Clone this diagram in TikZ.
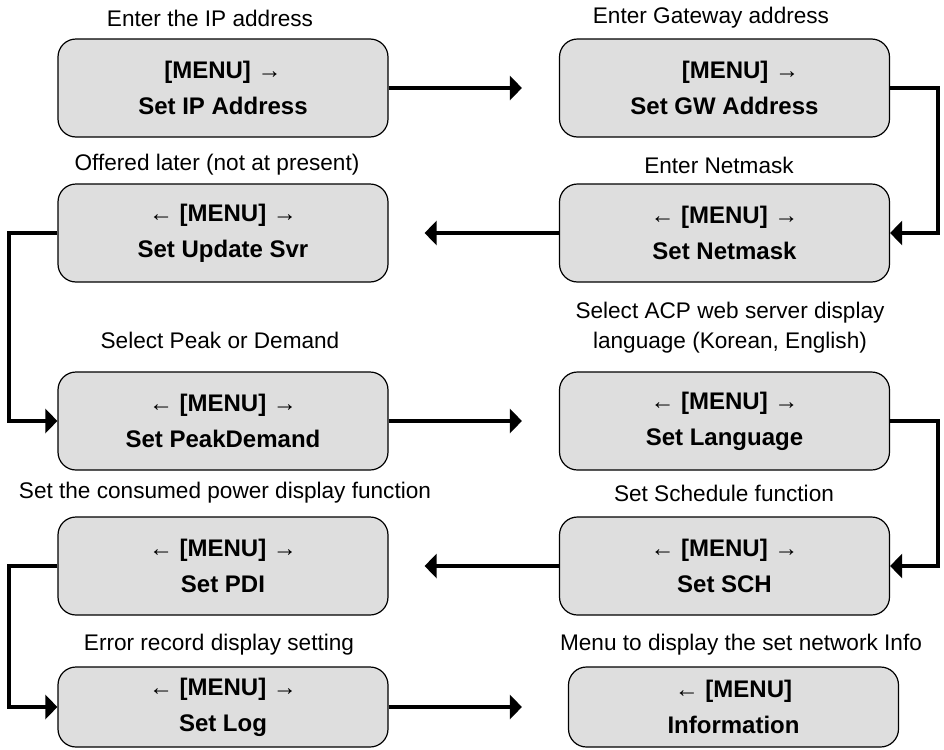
\documentclass[tikz,border=0pt]{standalone}
\usepackage{fontspec}
\setmainfont{Liberation Sans}
\usetikzlibrary{arrows.meta}

\begin{document}
\begin{tikzpicture}[x=0.5pt,y=-0.5pt,>={Triangle[length=6pt,width=12pt]},line cap=butt,
  menubox/.style={draw=black,line width=0.6pt,fill=black!13,rounded corners=9pt,
    minimum width=165pt,minimum height=49pt,align=center,
    font=\fontsize{12}{18}\selectfont\bfseries},
  note/.style={font=\fontsize{11.3}{15}\selectfont,align=center},
  flow/.style={->,line width=2pt}]
\useasboundingbox (0,0) rectangle (944,750);
% menu boxes
\node[menubox] (ip) at (223,88) {[MENU] →\\Set IP Address};
\node[menubox] (gw) at (724.5,88) {\hspace*{16pt}[MENU] →\\Set GW Address};
\node[menubox] (us) at (223,233) {← [MENU] →\\Set Update Svr};
\node[menubox] (nm) at (724.5,233) {← [MENU] →\\Set Netmask};
\node[menubox] (pd) at (223,421) {← [MENU] →\\Set PeakDemand};
\node[menubox] (lang) at (724.5,421) {← [MENU] →\\Set Language};
\node[menubox] (pdi) at (223,566) {← [MENU] →\\Set PDI};
\node[menubox] (sch) at (724.5,566) {← [MENU] →\\Set SCH};
\node[menubox,minimum height=40pt] (log) at (223,707) {← [MENU] →\\Set Log};
\node[menubox,minimum height=40pt] (info) at (733.5,707) {← [MENU]\\Information};
% notes above the boxes
\node[note] (ipnote) at (210,18) {Enter the IP address};
\node[note] (gwnote) at (711,18) {Enter Gateway address};
\node[note] (usnote) at (217,165) {Offered later (not at present)};
\node[note] (nmnote) at (719,165) {Enter Netmask};
\node[note] (pdnote) at (220,340) {Select Peak or Demand};
\node[note] (langnote) at (730,328) {Select ACP web server display\\language (Korean, English)};
\node[note] (pdinote) at (225,493) {Set the consumed power display function};
\node[note] (schnote) at (724,493) {Set Schedule function};
\node[note] (lognote) at (219,645) {Error record display setting};
\node[note] (infonote) at (741,645) {Menu to display the set network Info};
% flow
\draw[flow,shorten >=18.5pt] (ip.east) -- (gw.west);
\draw[flow] (gw.east) -- ++(48,0) |- (nm.east);
\draw[flow,shorten >=18pt] (nm.west) -- (us.east);
\draw[flow] (us.west) -- ++(-48,0) |- (pd.west);
\draw[flow,shorten >=18.5pt] (pd.east) -- (lang.west);
\draw[flow] (lang.east) -- ++(48,0) |- (sch.east);
\draw[flow,shorten >=18pt] (sch.west) -- (pdi.east);
\draw[flow] (pdi.west) -- ++(-48,0) |- (log.west);
\draw[flow,shorten >=23pt] (log.east) -- (info.west);
\end{tikzpicture}
\end{document}
